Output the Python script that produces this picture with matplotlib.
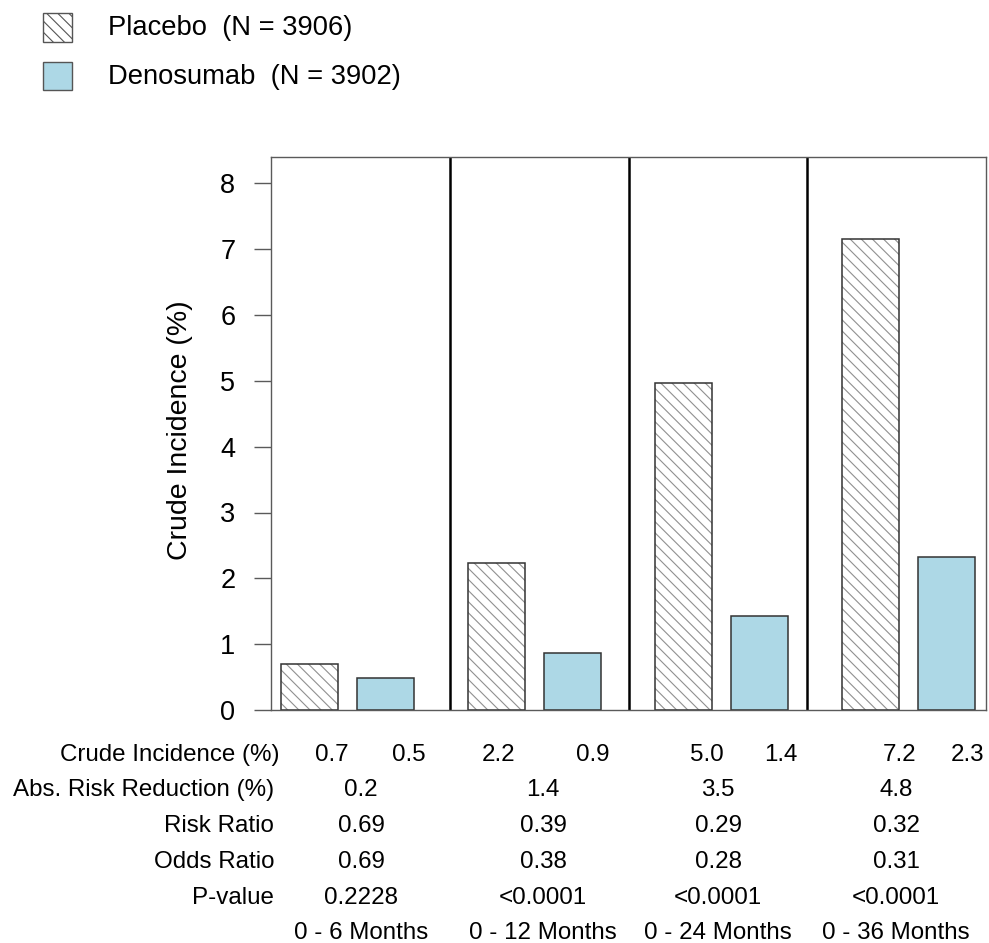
import matplotlib
matplotlib.use('Agg')
import matplotlib.pyplot as plt
from matplotlib.patches import Rectangle

plt.rcParams['font.family'] = ['Liberation Sans', 'DejaVu Sans']
plt.rcParams['hatch.linewidth'] = 0.8

# dane
periods = ['0 - 6 Months', '0 - 12 Months', '0 - 24 Months', '0 - 36 Months']
placebo = [0.70, 2.23, 4.97, 7.16]
denosumab = [0.48, 0.87, 1.43, 2.33]
crude_placebo = ['0.7', '2.2', '5.0', '7.2']
crude_deno = ['0.5', '0.9', '1.4', '2.3']
abs_risk = ['0.2', '1.4', '3.5', '4.8']
risk_ratio = ['0.69', '0.39', '0.29', '0.32']
odds_ratio = ['0.69', '0.38', '0.28', '0.31']
p_values = ['0.2228', '<0.0001', '<0.0001', '<0.0001']
row_labels = ['Abs. Risk Reduction (%)', 'Risk Ratio', 'Odds Ratio', 'P-value']
legend_labels = ['Placebo  (N = 3906)', 'Denosumab  (N = 3902)']
yticks = [0, 1, 2, 3, 4, 5, 6, 7, 8]

W, H = 989, 943
hatch = '\\\\\\'
blue = '#add8e6'
box = '#5a5a5a'

fig = plt.figure(figsize=(W / 100, H / 100), dpi=100)
ax = fig.add_axes([271 / W, 1 - 710 / H, 715 / W, 553 / H])

# pozycje slupkow (szerokosc 1, odstepy jak w barplot z R)
x_pl = [0.175 + 3.28 * i for i in range(4)]
x_de = [x + 1.333 for x in x_pl]

ax.bar(x_pl, placebo, width=1, align='edge', color='white', hatch=hatch,
       edgecolor='#909090', linewidth=0)
ax.bar(x_pl, placebo, width=1, align='edge', fill=False, edgecolor='#333333', linewidth=1.1)
ax.bar(x_de, denosumab, width=1, align='edge', color=blue, edgecolor='#333333', linewidth=1.1)

xmax = 12.54
ax.set_xlim(0, xmax)
ax.set_ylim(0, 8.4)
for k in range(1, 4):
    ax.axvline(xmax / 4 * k, color='black', lw=1.8)

ax.set_xticks([])
ax.set_yticks(yticks)
ax.tick_params(axis='y', length=12.2, width=1, color=box, pad=13.5, labelsize=19.5)
for s in ax.spines.values():
    s.set_color(box)
    s.set_linewidth(1)

fig.text(180 / W, 1 - 430 / H, 'Crude Incidence (%)', rotation=90,
         ha='center', va='center', fontsize=20.5)

# legenda
fig.patches.append(Rectangle((43 / W, 1 - 42 / H), 29 / W, 29 / H, transform=fig.transFigure,
                             facecolor='white', hatch=hatch, edgecolor='#555555', linewidth=1))
fig.patches.append(Rectangle((43 / W, 1 - 90 / H), 29 / W, 28 / H, transform=fig.transFigure,
                             facecolor=blue, edgecolor='#555555', linewidth=1))
fig.text(108 / W, 1 - 28 / H, legend_labels[0], va='center', ha='left', fontsize=19.7)
fig.text(108 / W, 1 - 77 / H, legend_labels[1], va='center', ha='left', fontsize=19.7)

# tabela pod wykresem
fs = 17.4
base = [761, 796, 832, 868, 903.5, 939]
col_x = [361, 543, 718, 896]
crude_x = [(332, 409), (499, 593), (707, 781), (900, 968)]

fig.text(280 / W, 1 - base[0] / H, 'Crude Incidence (%)', ha='right', va='baseline', fontsize=fs)
for i in range(4):
    fig.text(crude_x[i][0] / W, 1 - base[0] / H, crude_placebo[i], ha='center', va='baseline', fontsize=fs)
    fig.text(crude_x[i][1] / W, 1 - base[0] / H, crude_deno[i], ha='center', va='baseline', fontsize=fs)

rows = [abs_risk, risk_ratio, odds_ratio, p_values]
for r in range(4):
    y = 1 - base[r + 1] / H
    fig.text(274 / W, y, row_labels[r], ha='right', va='baseline', fontsize=fs)
    for i in range(4):
        fig.text(col_x[i] / W, y, rows[r][i], ha='center', va='baseline', fontsize=fs)

for i in range(4):
    fig.text(col_x[i] / W, 1 - base[5] / H, periods[i], ha='center', va='baseline', fontsize=fs)

fig.savefig('out.png', dpi=100)
